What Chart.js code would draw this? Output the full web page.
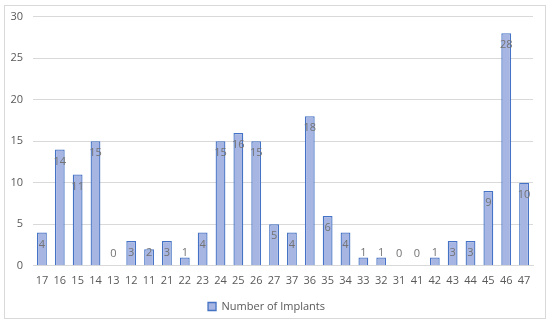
<!DOCTYPE html>
<html><head><meta charset="utf-8">
<script src="https://cdn.jsdelivr.net/npm/chart.js@4/dist/chart.umd.min.js"></script>
<style>html,body{margin:0;padding:0;background:#fff}#wrap{width:550px;height:325px;position:relative}</style>
</head><body><div id="wrap"><canvas id="c" width="550" height="325"></canvas></div>
<script>
const categories = ["17","16","15","14","13","12","11","21","22","23","24","25","26","27","37","36","35","34","33","32","31","41","42","43","44","45","46","47"];
const implants = [4,14,11,15,0,3,2,3,1,4,15,16,15,5,4,18,6,4,1,1,0,0,1,3,3,9,28,10];
const yTicks = [0,5,10,15,20,25,30];

const FONT = "'Open Sans', 'Liberation Sans', sans-serif";

const borderPlugin = {
  id: 'outerBorder',
  beforeDraw(chart) {
    const ctx = chart.ctx;
    ctx.save();
    ctx.fillStyle = '#fff';
    ctx.fillRect(0,0,chart.width,chart.height);
    ctx.strokeStyle = '#d9d9d9';
    ctx.lineWidth = 1;
    ctx.strokeRect(4.5, 5.5, 541, 313);
    ctx.restore();
  }
};

const labelPlugin = {
  id: 'valueLabels',
  afterDatasetsDraw(chart) {
    const ctx = chart.ctx;
    const meta = chart.getDatasetMeta(0);
    ctx.save();
    ctx.font = "11px " + FONT;
    ctx.fillStyle = '#737373';
    ctx.textAlign = 'center';
    ctx.textBaseline = 'middle';
    meta.data.forEach((bar, i) => {
      const v = implants[i];
      const y = Math.min(bar.y + 12, bar.base - 12);
      ctx.fillText(String(v), bar.x, y);
    });
    ctx.restore();
  }
};

new Chart(document.getElementById('c'), {
  type: 'bar',
  data: {
    labels: categories,
    datasets: [{
      label: 'Number of Implants',
      data: implants,
      backgroundColor: '#a7b5e2',
      borderColor: '#4472c4',
      borderWidth: 1.3,
      categoryPercentage: 0.55,
      barPercentage: 1.0
    }]
  },
  options: {
    responsive: false,
    animation: false,
    layout: { padding: { top: 14, right: 17, bottom: 3, left: 0 } },
    plugins: {
      legend: {
        position: 'bottom',
        labels: {
          font: { size: 11, family: FONT },
          color: '#595959',
          boxWidth: 8, boxHeight: 8,
          padding: 6
        }
      },
      tooltip: { enabled: false }
    },
    scales: {
      x: {
        grid: { display: false, drawTicks: false },
        border: { display: true, color: '#d9d9d9' },
        ticks: { font: { size: 11, family: FONT }, color: '#595959', padding: 8, maxRotation: 0, autoSkip: false }
      },
      y: {
        min: 0, max: 30,
        afterBuildTicks(scale) { scale.ticks = yTicks.map(v => ({ value: v })); },
        afterFit(scale) { scale.width = 33; },
        grid: { color: '#d9d9d9', drawTicks: false },
        border: { display: false },
        ticks: { font: { size: 11, family: FONT }, color: '#595959', padding: 10 }
      }
    }
  },
  plugins: [borderPlugin, labelPlugin]
});
</script></body></html>
